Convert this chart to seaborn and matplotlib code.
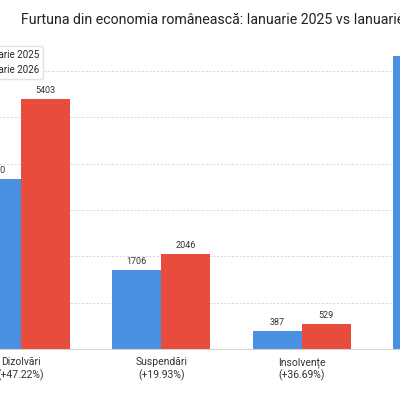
import matplotlib
matplotlib.use("Agg")
import matplotlib.pyplot as plt
import seaborn as sns
import pandas as pd

# data
categories = ["Dizolvări\n(+47.22%)", "Suspendări\n(+19.93%)", "Insolvențe\n(+36.69%)", "Radieri\n(-8.37%)"]
ian_2025 = [3670, 1706, 387, 6330]
ian_2026 = [5403, 2046, 529, 5800]
series = ["Ianuarie 2025", "Ianuarie 2026"]
colors = ["#4a90e2", "#e74c3c"]

df = pd.DataFrame({
    "categorie": categories * 2,
    "valoare": ian_2025 + ian_2026,
    "perioada": [series[0]] * 4 + [series[1]] * 4,
})

sns.set_style("white")
plt.rcParams["font.family"] = ["Roboto", "DejaVu Sans"]

fig = plt.figure(figsize=(4, 4), dpi=100)
# the visible picture is a window onto a wider chart
ax = fig.add_axes([-49.5 / 400, 51 / 400, 562 / 400, 308 / 400])

sns.barplot(data=df, x="categorie", y="valoare", hue="perioada",
            palette=colors, width=0.7, ax=ax, saturation=1, linewidth=0)

for cont in ax.containers:
    ax.bar_label(cont, fontsize=6.5, padding=3, color="#333333")

ax.set_ylim(0, 6650)
ax.set_yticks(range(0, 7000, 1000))
ax.yaxis.grid(True, linestyle=(0, (2.5, 2)), color="#d0d0d0", linewidth=0.6)
ax.set_axisbelow(True)
ax.set_xlabel("")
ax.set_ylabel("")
ax.tick_params(axis="x", labelsize=7.5, colors="#333333", length=4, pad=2, color="#aaaaaa")
ax.tick_params(axis="y", labelsize=7, colors="#333333", length=0)
for s in ["top", "right", "left"]:
    ax.spines[s].set_visible(False)
ax.spines["bottom"].set_color("#d5d5d5")

ax.legend(loc="upper left", bbox_to_anchor=(-0.011, 1.0), fontsize=7,
          frameon=True, edgecolor="#dddddd")

fig.text(21 / 400, 1 - 23.5 / 400,
         "Furtuna din economia românească: Ianuarie 2025 vs Ianuarie 2026",
         fontsize=10.2, color="#222222", ha="left", va="baseline")

plt.savefig("out.png", dpi=100)
